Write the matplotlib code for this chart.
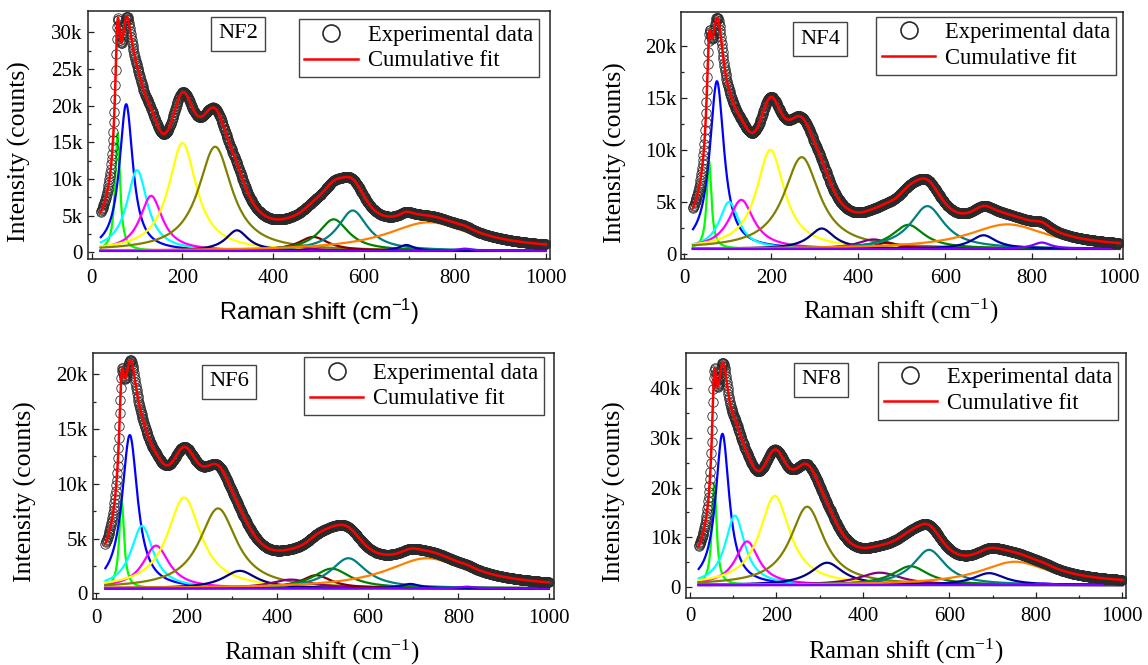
import numpy as np
import matplotlib
matplotlib.use('Agg')
import matplotlib.pyplot as plt

plt.rcParams['font.family'] = ['Liberation Serif', 'DejaVu Serif']
plt.rcParams['mathtext.default'] = 'regular'

# Origin palette, one colour per fitted component (same order in every panel)
peak_colors = ['#00FF00', '#0000FF', '#00FFFF', '#FF00FF', '#FFFF00', '#808000',
               '#000080', '#800080', '#800000', '#008000', '#008080', '#0000A0',
               '#FF8000', '#8000FF']
base_color = '#8000FF'

samples = ['NF2', 'NF4', 'NF6', 'NF8']

# fitted components: centre (cm-1), height above baseline (counts), FWHM (cm-1)
nf2_centers = [57, 76, 100, 131, 200, 272, 320, 440, 488, 533, 575, 693, 743, 822]
nf2_heights = [16000, 20000, 11000, 7500, 14700, 14200, 2800, 600, 1900, 4300, 5500, 800, 3900, 300]
nf2_widths = [13, 36, 55, 60, 75, 90, 60, 90, 80, 80, 80, 40, 230, 40]
nf2_base = 200

nf4_centers = [57, 75, 103, 131, 198, 270, 316, 435, 466, 515, 559, 688, 743, 822]
nf4_heights = [8400, 16100, 4500, 4700, 9500, 8800, 1950, 900, 600, 2300, 4100, 1300, 2350, 600]
nf4_widths = [13, 40, 55, 70, 78, 100, 70, 90, 60, 90, 95, 70, 220, 50]
nf4_base = 500

nf6_centers = [56, 74, 101, 132, 194, 269, 317, 430, 486, 520, 557, 694, 731, 819]
nf6_heights = [8000, 14000, 5700, 3900, 8300, 7300, 1600, 800, 1200, 1800, 2750, 400, 2750, 150]
nf6_widths = [13, 42, 60, 70, 90, 100, 90, 110, 80, 100, 95, 50, 220, 40]
nf6_base = 450

nf8_centers = [56, 75, 104, 132, 196, 271, 317, 439, 480, 510, 553, 692, 752, 820]
nf8_heights = [20500, 30500, 14000, 8800, 18000, 15800, 4500, 2500, 500, 3800, 7100, 2400, 4700, 300]
nf8_widths = [13, 38, 55, 65, 85, 95, 90, 120, 80, 100, 90, 90, 200, 50]
nf8_base = 350

centers = [nf2_centers, nf4_centers, nf6_centers, nf8_centers]
heights = [nf2_heights, nf4_heights, nf6_heights, nf8_heights]
widths = [nf2_widths, nf4_widths, nf6_widths, nf8_widths]
bases = [nf2_base, nf4_base, nf6_base, nf8_base]

x_ticks = [0, 200, 400, 600, 800, 1000]
y_ticks = [[0, 5000, 10000, 15000, 20000, 25000, 30000],
           [0, 5000, 10000, 15000, 20000],
           [0, 5000, 10000, 15000, 20000],
           [0, 10000, 20000, 30000, 40000]]
y_ticklabels = [['0', '5k', '10k', '15k', '20k', '25k', '30k'],
                ['0', '5k', '10k', '15k', '20k'],
                ['0', '5k', '10k', '15k', '20k'],
                ['0', '10k', '20k', '30k', '40k']]
y_minor = [2500, 2500, 2500, 5000]

# Raman shift sampling of the spectra
shift = np.arange(20, 1000.1, 1.0)

W, H = 1148, 665
# axes boxes in pixels: left, top, right, bottom
boxes = [(87.7, 11, 550, 259), (681.3, 11.7, 1122.9, 259),
         (92.7, 352.7, 554.3, 599.3), (686, 352.7, 1125.7, 597.7)]
xlims = [(-8.8, 1009.5), (-6.9, 1008.5), (-8.0, 1012), (-9.3, 1007.9)]
ylims = [(-910, 32900), (-480, 23270), (-550, 21970), (-2200, 47200)]
xlabel_pos = [(319, 312), (901, 311), (322, 652), (906, 651)]
ylabel_pos = [(19, 152), (615, 153), (25, 492), (614, 492)]
tag_pos = [(238, 34), (820, 39), (229, 382), (821, 380)]
legend_corner = [(538.7, 19.3), (1116.3, 16.7), (544.2, 357.3), (1118.1, 361.7)]

fig = plt.figure(figsize=(W / 100, H / 100), dpi=100)

for i in range(4):
    l, t, r, b = boxes[i]
    ax = fig.add_axes([l / W, 1 - b / H, (r - l) / W, (b - t) / H])
    base = bases[i]
    comps = [h / (1 + (2 * (shift - c) / w) ** 2)
             for c, h, w in zip(centers[i], heights[i], widths[i])]
    total = base + np.sum(comps, axis=0)

    ax.plot(shift, np.full_like(shift, base), color=base_color, lw=1.6, zorder=2)
    for comp, col in zip(comps, peak_colors):
        ax.plot(shift, base + comp, color=col, lw=1.6, zorder=2)
    ax.plot(shift, total, 'o', mfc='none', mec='#2a2a2a', ms=6.8, mew=0.6,
            zorder=3, label='Experimental data')
    ax.plot(shift, total, color='red', lw=1.8, zorder=4, label='Cumulative fit')

    ax.set_xlim(*xlims[i])
    ax.set_ylim(*ylims[i])
    ax.set_xticks(x_ticks)
    ax.set_xticklabels([str(v) for v in x_ticks])
    ax.set_xticks(np.arange(100, 1000, 200), minor=True)
    ax.set_yticks(y_ticks[i])
    ax.set_yticklabels(y_ticklabels[i])
    ax.set_yticks(np.arange(y_minor[i], y_ticks[i][-1] + 1, 2 * y_minor[i]), minor=True)
    ax.tick_params(which='both', direction='in', top=False, right=False,
                   width=0.9, color='#222222', labelsize=15)
    ax.tick_params(which='major', length=4.5)
    ax.tick_params(which='minor', length=2.5)
    ax.tick_params(axis='x', pad=7)
    ax.tick_params(axis='y', pad=3.6)
    for s in ax.spines.values():
        s.set_linewidth(1.1)
        s.set_color('#222222')

    lx, ly = legend_corner[i]
    leg = ax.legend(loc='upper right', bbox_to_anchor=(lx / W, 1 - ly / H),
                    bbox_transform=fig.transFigure, borderaxespad=0,
                    fontsize=16.3, markerscale=1.8, handlelength=2.35,
                    handletextpad=0.45, borderpad=0.25, labelspacing=0.2,
                    fancybox=False, framealpha=1)
    leg.get_frame().set_edgecolor('#444444')
    leg.get_frame().set_linewidth(1.0)
    leg.get_lines()[0].set_markeredgewidth(1.2)

    tx, ty = tag_pos[i]
    fig.text(tx / W, 1 - ty / H, samples[i], fontsize=16.2, ha='center', va='center',
             bbox=dict(boxstyle='square,pad=0.32', fc='white', ec='#444444', lw=1.0))

    yx, yy = ylabel_pos[i]
    fig.text(yx / W, 1 - yy / H, 'Intensity (counts)', fontsize=18.5, rotation=90,
             ha='center', va='center')

    xx, xy = xlabel_pos[i]
    if i == 0:
        fig.text(xx / W, 1 - xy / H, 'Raman shift (cm$^{-1}$)', fontsize=17,
                 family=['Liberation Sans', 'DejaVu Sans'], ha='center', va='center')
    else:
        fig.text(xx / W, 1 - xy / H, 'Raman shift (cm$^{-1}$)', fontsize=18,
                 ha='center', va='center')

fig.savefig('out.png', dpi=100)
